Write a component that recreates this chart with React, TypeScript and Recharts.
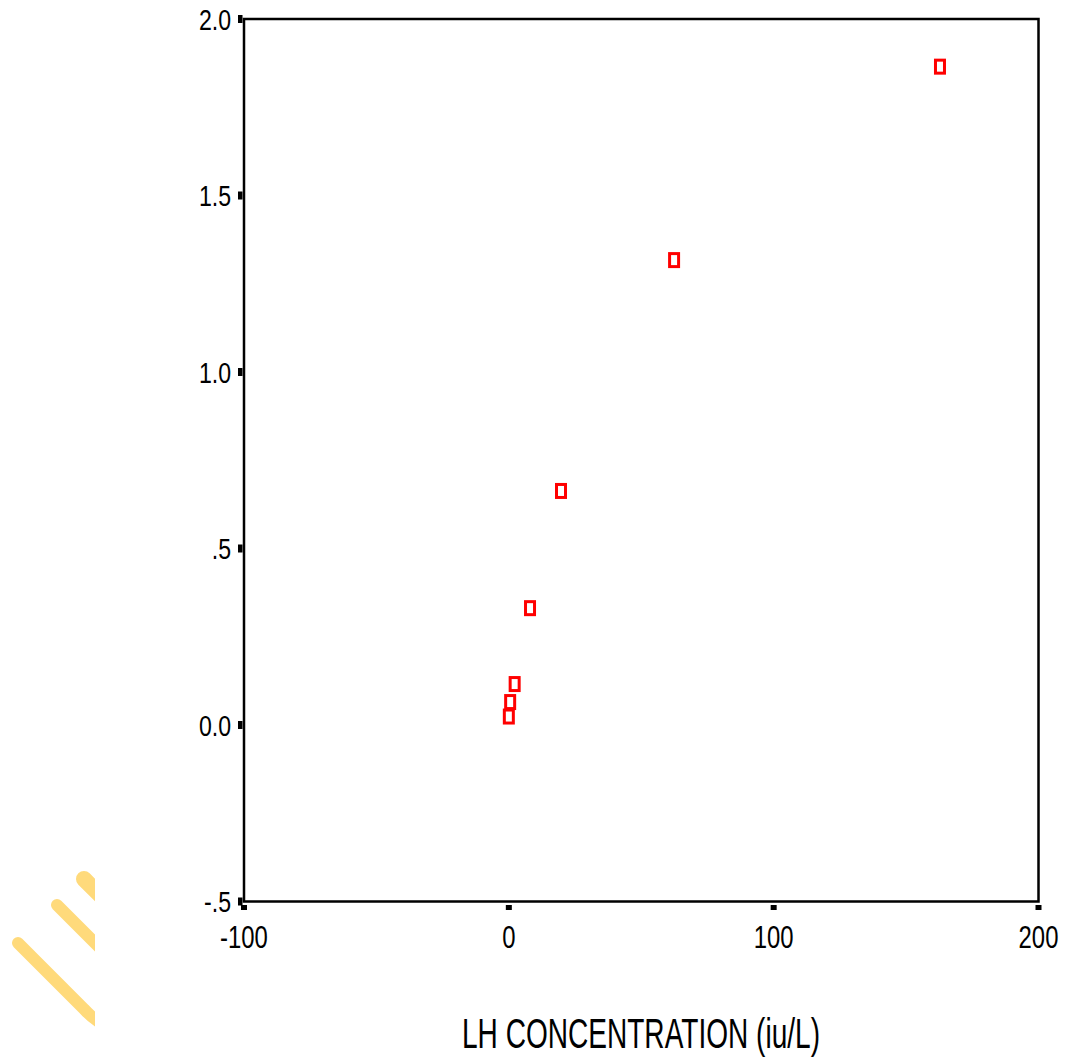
import { ReferenceArea, Scatter, ScatterChart, XAxis, YAxis } from "recharts"

const LH_CONC = [0, 0.5, 2.2, 8.0, 19.7, 62.4, 162.8]
const RESPONSE = [0.024, 0.065, 0.116, 0.331, 0.663, 1.317, 1.865]

const X_TICKS = [-100, 0, 100, 200]
const X_TICK_LABELS = ["-100", "0", "100", "200"]
const Y_TICKS = [-0.5, 0, 0.5, 1, 1.5, 2]
const Y_TICK_LABELS = ["-.5", "0.0", ".5", "1.0", "1.5", "2.0"]

const X_TITLE = "LH CONCENTRATION (iu/L)"

const points = LH_CONC.map((x, i) => ({ x, y: RESPONSE[i] }))

const FONT = "'Liberation Sans', Arial, sans-serif"
const SQUEEZE = 0.77

const XTick = ({ x, y, payload }: any) => {
  const idx = X_TICKS.indexOf(payload.value)
  return (
    <g>
      <rect x={x - 3} y={y + 3.5} width={6} height={5} fill="#000" />
      <text
        transform={`translate(${x},${y + 46}) scale(${SQUEEZE},1)`}
        textAnchor="middle"
        fontSize={31}
        fontFamily={FONT}
        fill="#000"
      >
        {X_TICK_LABELS[idx]}
      </text>
    </g>
  )
}

const YTick = ({ x, y, payload }: any) => {
  const idx = Y_TICKS.indexOf(payload.value)
  return (
    <g>
      <rect x={x - 6} y={y - 4} width={4.5} height={8} fill="#000" />
      <text
        transform={`translate(${x - 13},${y + 10.5}) scale(${SQUEEZE},1)`}
        textAnchor="end"
        fontSize={30}
        fontFamily={FONT}
        fill="#000"
      >
        {Y_TICK_LABELS[idx]}
      </text>
    </g>
  )
}

const BoxMarker = ({ cx, cy }: any) => (
  <rect x={cx - 4.5} y={cy - 6.5} width={9} height={13} fill="none" stroke="#ff0000" strokeWidth={3} />
)

const Watermark = () => (
  <svg
    width={100}
    height={1059}
    style={{ position: "absolute", left: 0, top: 0, pointerEvents: "none" }}
  >
    <defs>
      <clipPath id="wm-clip">
        <rect x={0} y={0} width={95} height={1059} />
      </clipPath>
    </defs>
    <g clipPath="url(#wm-clip)" stroke="#ffda7b" strokeLinecap="round" fill="none">
      <path d="M18 943 L84 1009 Q92 1018 105 1026" strokeWidth={12} />
      <line x1={57} y1={905} x2={105} y2={953} strokeWidth={12} />
      <line x1={84} y1={879} x2={105} y2={900} strokeWidth={16} />
    </g>
  </svg>
)

export default function App() {
  return (
    <div style={{ position: "absolute", left: 0, top: 0, width: 1066, height: 1059, background: "#fff" }}>
      <ScatterChart width={1066} height={1059} margin={{ top: 19, right: 27.5, left: 0, bottom: 0 }}>
        <XAxis
          type="number"
          dataKey="x"
          domain={[-100, 200]}
          ticks={X_TICKS}
          axisLine={false}
          tickLine={false}
          tickSize={0}
          tickMargin={0}
          height={157.5}
          tick={<XTick />}
          interval={0}
          label={{
            content: () => (
              <text
                x={641}
                y={1048}
                textAnchor="middle"
                fontSize={42}
                fontFamily={FONT}
                textLength={358}
                lengthAdjust="spacingAndGlyphs"
                fill="#000"
              >
                {X_TITLE}
              </text>
            ),
          }}
        />
        <YAxis
          type="number"
          dataKey="y"
          domain={[-0.5, 2]}
          ticks={Y_TICKS}
          axisLine={false}
          tickLine={false}
          tickSize={0}
          tickMargin={0}
          width={244}
          tick={<YTick />}
          interval={0}
        />
        <ReferenceArea
          x1={-100}
          x2={200}
          y1={-0.5}
          y2={2}
          fill="none"
          fillOpacity={0}
          stroke="#000"
          strokeWidth={2.5}
        />
        <Scatter data={points} shape={<BoxMarker />} isAnimationActive={false} />
      </ScatterChart>
      <Watermark />
    </div>
  )
}
